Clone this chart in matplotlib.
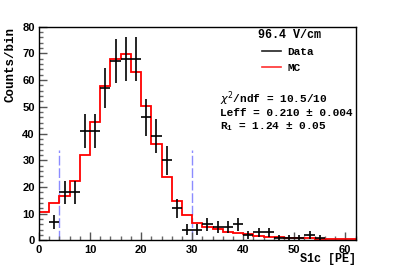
import numpy as np
import matplotlib
matplotlib.use("Agg")
import matplotlib.pyplot as plt
from matplotlib.ticker import MultipleLocator
from matplotlib.lines import Line2D

# Bin edges (2 PE wide) and contents
bin_edges = np.arange(0, 64, 2)
data_counts = [0, 7, 18, 18, 41, 41, 57, 67, 68, 68, 46, 39, 30, 12, 4, 4,
               6, 5, 5, 6, 2, 3, 3, 1, 1, 1, 2, 1, 0, 0, 0]
mc_counts = [10.6, 13.9, 16.8, 22.4, 31.8, 44.4, 57.8, 67.8, 69.8, 63.0, 50.3,
             35.9, 23.6, 14.8, 9.6, 6.6, 5.2, 4.2, 3.3, 2.7, 2.3, 1.8, 1.4,
             1.2, 1.0, 0.9, 0.8, 0.7, 0.7, 0.6, 0.6]
cut_lines = [4, 30]
cut_height = 34

field_label = "96.4 V/cm"
fit_lines = ["$\\chi^{2}$/ndf = 10.5/10",
             "Leff = 0.210 ± 0.004",
             "R$_\\mathregular{1}$ = 1.24 ± 0.05"]

centers = (bin_edges[:-1] + bin_edges[1:]) / 2
data_counts = np.array(data_counts, dtype=float)
mask = data_counts > 0

mono = "Liberation Mono"
sans = "Liberation Sans"

fig = plt.figure(figsize=(3.95, 2.67), dpi=100)
ax = fig.add_axes([0.0987, 0.0993, 0.8013, 0.8014])

# MC histogram as a step outline
ax.stairs(mc_counts, bin_edges, color="#ff0000", linewidth=1.3, zorder=2)

# data with sqrt(N) errors and bin-width x errors
ax.errorbar(centers[mask], data_counts[mask], yerr=np.sqrt(data_counts[mask]),
            xerr=1.0, fmt="none", ecolor="black", elinewidth=1.2, capsize=0,
            zorder=3)

# analysis window
for xc in cut_lines:
    ax.plot([xc, xc], [0, cut_height], color="#8c8cff", linewidth=1.0,
            dashes=(7, 2), zorder=1)

ax.set_xlim(0, 62)
ax.set_ylim(0, 80)
ax.xaxis.set_major_locator(MultipleLocator(10))
ax.xaxis.set_minor_locator(MultipleLocator(2))
ax.yaxis.set_major_locator(MultipleLocator(10))
ax.yaxis.set_minor_locator(MultipleLocator(2))
ax.tick_params(which="major", direction="in", length=6, width=1.0, color="#555555")
ax.tick_params(which="minor", direction="in", length=3, width=1.0, color="#666666")
ax.tick_params(axis="both", labelsize=8, pad=3)
for lab in ax.get_xticklabels() + ax.get_yticklabels():
    lab.set_fontfamily(sans)
    lab.set_fontweight("bold")
for sp in ax.spines.values():
    sp.set_linewidth(1.0)

ax.set_ylabel("Counts/bin", fontfamily=mono, fontweight="bold", fontsize=9,
              loc="top", labelpad=4)
ax.set_xlabel("S1c [PE]", fontfamily=mono, fontweight="bold", fontsize=8.5,
              loc="right", labelpad=-1)

ax.text(0.793, 0.962, field_label, transform=ax.transAxes, ha="center", va="center",
        fontfamily=mono, fontweight="bold", fontsize=8.5)

leg_handles = [Line2D([], [], color="#222222", linewidth=1.2),
               Line2D([], [], color="#ff3030", linewidth=1.2)]
ax.legend(leg_handles, ["Data", "MC"],
          loc="upper left", bbox_to_anchor=(0.706, 0.905), frameon=False,
          borderpad=0, borderaxespad=0, handlelength=1.65, handletextpad=0.6,
          labelspacing=0.55,
          prop={"family": mono, "weight": "bold", "size": 8})

ys = [0.664, 0.596, 0.531]
for txt, yy in zip(fit_lines, ys):
    ax.text(0.571, yy, txt, transform=ax.transAxes, ha="left", va="center",
            fontfamily=mono, fontweight="bold", fontsize=8)

fig.savefig("out.png", dpi=100)
